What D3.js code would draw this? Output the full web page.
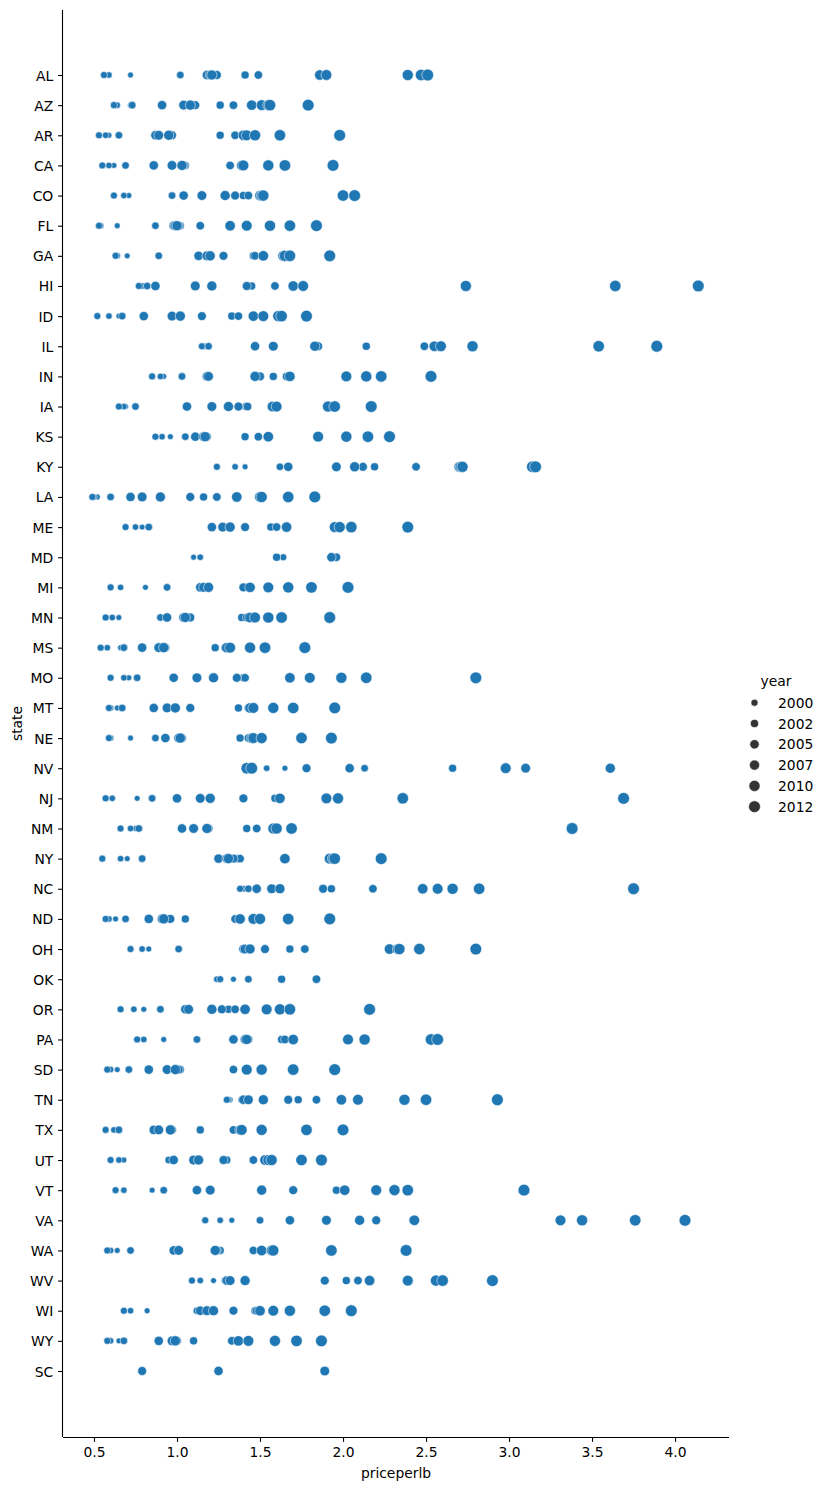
<!DOCTYPE html>
<html><head><meta charset="utf-8">
<script src="https://cdn.jsdelivr.net/npm/d3@7"></script>
<style>body{margin:0;background:#fff}svg{display:block}text{font-family:"DejaVu Sans",sans-serif;fill:#000}</style>
</head><body><svg id="c" width="825" height="1490"></svg>
<script>
const states = ["AL","AZ","AR","CA","CO","FL","GA","HI","ID","IL","IN","IA","KS","KY","LA","ME","MD","MI","MN","MS","MO","MT","NE","NV","NJ","NM","NY","NC","ND","OH","OK","OR","PA","SD","TN","TX","UT","VT","VA","WA","WV","WI","WY","SC"];
const years = [1998,1999,2000,2001,2002,2003,2004,2005,2006,2007,2008,2009,2010,2011,2012];
const legendYears = [2000,2002,2005,2007,2010,2012];
const xTicks = [0.5,1.0,1.5,2.0,2.5,3.0,3.5,4.0];

// priceperlb per state, in year order 1998..2012 (null = no record)
const AL = [0.72,0.59,0.56,1.02,1.41,1.49,1.24,1.18,1.20,1.21,1.86,1.90,2.39,2.47,2.51];
const AZ = [0.72,0.64,0.62,0.73,1.26,1.34,1.11,0.91,1.04,1.08,1.45,1.51,1.55,1.56,1.79];
const AR = [0.59,0.57,0.53,0.65,1.26,1.35,0.97,0.87,0.89,0.95,1.40,1.42,1.47,1.62,1.98];
const CA = [0.62,0.59,0.55,0.69,1.05,1.32,1.04,0.86,0.97,1.03,1.39,1.40,1.55,1.65,1.94];
const CO = [0.71,0.68,0.62,0.97,1.40,1.43,1.35,1.04,1.15,1.29,1.50,1.51,1.52,2.00,2.07];
const FL = [0.64,0.54,0.53,0.87,1.02,1.14,1.01,0.98,0.99,1.00,1.32,1.42,1.56,1.68,1.84];
const GA = [0.70,0.64,0.63,0.89,1.46,1.47,1.28,1.13,1.18,1.20,1.52,1.64,1.65,1.68,1.92];
const HI = [0.80,0.79,0.77,0.82,1.45,1.59,1.42,0.87,1.11,1.21,1.70,1.76,2.74,3.64,4.14];
const ID = [0.65,0.59,0.52,0.67,1.33,1.37,1.15,0.80,0.97,1.02,1.46,1.52,1.61,1.63,1.78];
const IL = [1.17,1.165,1.15,1.19,2.14,2.49,1.85,1.47,1.58,1.83,2.55,2.59,2.78,3.54,3.89];
const IN = [0.92,0.90,0.85,1.03,1.58,1.66,1.50,1.18,1.19,1.47,1.68,2.02,2.14,2.23,2.53];
const IA = [0.69,0.68,0.65,0.75,1.415,1.425,1.37,1.06,1.21,1.31,1.575,1.60,1.91,1.95,2.17];
const KS = [0.96,0.91,0.87,1.05,1.41,1.49,1.18,1.11,1.16,1.17,1.55,1.85,2.02,2.15,2.28];
const KY = [1.41,1.35,1.24,1.62,2.19,2.44,2.12,1.67,1.96,2.07,2.70,2.71,2.72,3.14,3.16];
const LA = [0.52,0.50,0.49,0.60,1.16,1.24,1.08,0.72,0.79,0.90,1.36,1.50,1.51,1.67,1.83];
const ME = [0.79,0.75,0.69,0.83,1.565,1.60,1.41,1.21,1.275,1.32,1.66,1.95,1.98,2.05,2.39];
const MD = [1.10,1.14,1.64,null,1.60,1.96,null,1.93,null,null,null,null,null,null,null];
const MI = [0.81,0.66,0.60,0.94,1.40,1.41,1.40,1.14,1.16,1.19,1.44,1.55,1.67,1.81,2.03];
const MN = [0.65,0.61,0.57,0.90,1.39,1.42,1.08,0.94,1.04,1.05,1.44,1.47,1.55,1.63,1.92];
const MS = [0.66,0.58,0.54,0.68,1.23,1.29,0.93,0.79,0.89,0.92,1.30,1.32,1.44,1.53,1.77];
const MO = [0.71,0.68,0.60,0.76,1.40,1.41,1.36,0.98,1.12,1.22,1.68,1.80,1.99,2.14,2.80];
const MT = [0.64,0.60,0.59,0.67,1.37,1.43,1.08,0.86,0.94,0.99,1.44,1.46,1.58,1.70,1.95];
const NE = [0.72,0.60,0.59,0.87,1.38,1.43,1.03,0.93,1.01,1.02,1.45,1.46,1.51,1.75,1.93];
const NV = [1.65,1.54,null,2.13,2.66,null,1.78,2.04,3.10,3.61,null,2.98,null,1.42,1.45];
const NJ = [0.76,0.61,0.57,0.85,1.59,1.62,1.40,1.00,1.14,1.20,1.62,1.90,1.97,2.36,3.69];
const NM = [0.75,0.72,0.66,0.77,1.42,1.48,1.19,1.03,1.10,1.18,1.58,1.58,1.60,1.69,3.38];
const NY = [0.70,0.66,0.55,0.79,1.36,1.38,1.34,1.25,1.30,1.31,1.65,1.92,1.94,1.95,2.23];
const NC = [1.41,1.40,1.38,1.43,1.93,2.18,1.88,1.48,1.57,1.62,2.48,2.57,2.66,2.82,3.75];
const ND = [0.63,0.59,0.57,0.69,1.05,1.35,0.96,0.83,0.91,0.92,1.38,1.46,1.50,1.67,1.92];
const OH = [0.83,0.79,0.72,1.01,1.68,1.77,1.53,1.40,1.41,1.44,2.28,2.33,2.34,2.46,2.80];
const OK = [1.34,1.24,1.26,1.43,1.63,1.84,null,null,null,null,null,null,null,null,null];
const OR = [0.80,0.74,0.66,0.90,1.31,1.35,1.27,1.05,1.07,1.21,1.41,1.54,1.62,1.68,2.16];
const PA = [0.92,0.80,0.76,1.12,1.63,1.65,1.43,1.34,1.41,1.42,1.70,2.03,2.13,2.53,2.57];
const SD = [0.64,0.60,0.58,0.71,1.02,1.34,1.01,0.83,0.94,0.99,1.42,1.42,1.51,1.70,1.95];
const TN = [1.32,1.31,1.30,1.39,1.73,1.84,1.67,1.40,1.43,1.52,1.99,2.09,2.37,2.50,2.93];
const TX = [0.64,0.62,0.57,0.65,1.14,1.34,0.97,0.86,0.89,0.96,1.38,1.39,1.51,1.78,2.00];
const UT = [0.68,0.65,0.60,0.95,1.30,1.46,1.28,0.98,1.10,1.13,1.53,1.55,1.57,1.75,1.87];
const VT = [0.85,0.68,0.63,0.92,1.96,2.01,1.70,1.12,1.20,1.51,2.01,2.20,2.31,2.39,3.09];
const VA = [1.33,1.26,1.17,1.50,2.42,2.43,2.20,1.68,1.90,2.10,2.43,3.31,3.44,3.76,4.06];
const WA = [0.64,0.60,0.58,0.72,1.26,1.46,1.24,0.98,1.01,1.23,1.51,1.57,1.58,1.93,2.38];
const WV = [1.22,1.14,1.09,1.29,2.02,2.09,1.89,1.30,1.32,1.41,2.16,2.39,2.56,2.60,2.90];
const WI = [0.82,0.72,0.68,1.12,1.47,1.48,1.34,1.14,1.18,1.22,1.50,1.58,1.68,1.89,2.05];
const WY = [0.65,0.60,0.58,0.68,1.10,1.33,1.00,0.89,0.97,0.99,1.37,1.43,1.59,1.72,1.87];
const SC = [null,null,null,null,null,null,0.79,1.25,1.89,null,null,null,null,null,null];

const priceByState = {AL,AZ,AR,CA,CO,FL,GA,HI,ID,IL,IN,IA,KS,KY,LA,ME,MD,MI,MN,MS,MO,MT,NE,NV,NJ,NM,NY,NC,ND,OH,OK,OR,PA,SD,TN,TX,UT,VT,VA,WA,WV,WI,WY,SC};

// rows in year-major order (later years drawn on top)
const rows = [];
years.forEach((yr, i) => states.forEach(st => {
  const v = priceByState[st][i];
  if (v != null) rows.push({state: st, year: yr, price: v});
}));

const svg = d3.select("#c");
const L = 63, R = 729, T = 10, B = 1437;
const x = d3.scaleLinear().domain([0.3133, 4.325]).range([L, R]);
const y = d3.scalePoint().domain(states).range([75, 1371]);
const area = d3.scaleLinear().domain([1998, 2012]).range([18, 72]);
const pt = 100 / 72;
const radius = yr => Math.sqrt(area(yr)) / 2 * pt;

// points
svg.append("g").selectAll("circle").data(rows).join("circle")
  .attr("cx", d => x(d.price)).attr("cy", d => y(d.state))
  .attr("r", d => radius(d.year))
  .attr("fill", "#1f77b4").attr("stroke", "#fff").attr("stroke-width", 0.55);

// axes
const fs = 13.89, tickLen = 4.86, pad = 4.86;
const xAxis = d3.axisBottom(x).tickValues(xTicks).tickFormat(d3.format(".1f")).tickSizeInner(tickLen).tickSizeOuter(0).tickPadding(pad);
const gx = svg.append("g").attr("transform", `translate(0,${B})`).call(xAxis);
gx.select(".domain").attr("d", `M${L},0.5H${R}`);
const yAxis = d3.axisLeft(y).tickSizeInner(tickLen).tickSizeOuter(0).tickPadding(pad);
const gy = svg.append("g").attr("transform", `translate(${L},0)`).call(yAxis);
gy.select(".domain").attr("d", `M-0.5,${T}V${B}`);
[gx, gy].forEach(g => {
  g.selectAll(".domain").attr("stroke", "#000").attr("stroke-width", 1.11);
  g.selectAll(".tick line").attr("stroke", "#000").attr("stroke-width", 1.11);
  g.selectAll(".tick text").attr("font-size", fs).attr("font-family", "DejaVu Sans").attr("fill", "#000");
});
gx.selectAll(".tick text").attr("dy", "0.76em");
gy.selectAll(".tick text").attr("dy", "0.36em");

svg.append("text").attr("x", (L + R) / 2).attr("y", 1478).attr("text-anchor", "middle").attr("font-size", fs).text("priceperlb");
svg.append("text").attr("transform", `translate(22,${(T + B) / 2}) rotate(-90)`).attr("text-anchor", "middle").attr("font-size", fs).text("state");

// legend
const lg = svg.append("g");
lg.append("text").attr("x", 776).attr("y", 685.5).attr("text-anchor", "middle").attr("font-size", fs).text("year");
legendYears.forEach((yr, i) => {
  const cy = 702.7 + i * 20.8;
  lg.append("circle").attr("cx", 754.5).attr("cy", cy).attr("r", radius(yr)).attr("fill", "#333333").attr("stroke", "#fff").attr("stroke-width", 0.55);
  lg.append("text").attr("x", 778).attr("y", cy).attr("dy", "0.36em").attr("font-size", fs).text(yr);
});
</script></body></html>
